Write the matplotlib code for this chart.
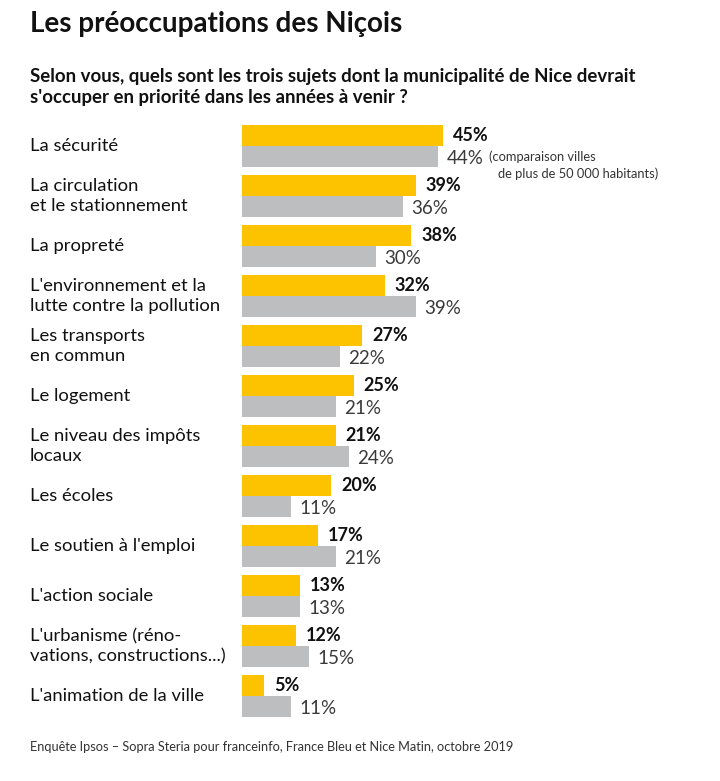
import matplotlib
matplotlib.use("Agg")
import matplotlib.pyplot as plt
import matplotlib.transforms as mtransforms

plt.rcParams["font.family"] = ["Lato", "DejaVu Sans"]

categories = [
    "La sécurité",
    "La circulation\net le stationnement",
    "La propreté",
    "L'environnement et la\nlutte contre la pollution",
    "Les transports\nen commun",
    "Le logement",
    "Le niveau des impôts\nlocaux",
    "Les écoles",
    "Le soutien à l'emploi",
    "L'action sociale",
    "L'urbanisme (réno-\nvations, constructions...)",
    "L'animation de la ville",
]
nice = [45, 39, 38, 32, 27, 25, 21, 20, 17, 13, 12, 5]
villes = [44, 36, 30, 39, 22, 21, 24, 11, 21, 13, 15, 11]

YELLOW = "#FEC300"
GREY = "#BCBEC0"
TXT = "#111111"

W, H = 720, 781
fig = plt.figure(figsize=(W / 100, H / 100), dpi=100)

# axes in pixel terms: bars start at x=242, 1% ~ 4.46 px, rows every 50 px
px_per_pct = 4.46
ax_left, ax_top, ax_bot = 242, 100, 730
ax = fig.add_axes([ax_left / W, 1 - ax_bot / H, (W - ax_left) / W, (ax_bot - ax_top) / H])
ax.set_xlim(0, (W - ax_left) / px_per_pct)
ax.set_ylim(11.68, -0.92)
ax.axis("off")

bh = 0.42
ys = list(range(len(categories)))
ax.barh([y - bh / 2 for y in ys], nice, height=bh, color=YELLOW)
ax.barh([y + bh / 2 for y in ys], villes, height=bh, color=GREY)

off = 10 / px_per_pct
for y, a, b in zip(ys, nice, villes):
    ax.text(a + off, y - bh / 2, f"{a}%", fontsize=13, fontweight="bold",
            color=TXT, va="center", ha="left")
    ax.text(b + off - 0.4, y + bh / 2 + 0.03, f"{b}%", fontsize=13.5, fontweight="normal",
            color="#3a3a3a", va="center", ha="left")

lab_tr = mtransforms.blended_transform_factory(fig.transFigure, ax.transData)
for y, c in zip(ys, categories):
    ax.text(30 / W, y, c, transform=lab_tr, fontsize=13.3, color=TXT,
            va="center", ha="left", linespacing=1.3)

ax.text(489 / W, 0.21, "(comparaison villes", transform=lab_tr, fontsize=9.3,
        color="#333333", va="center", ha="left")
ax.text(498 / W, 0.56, "de plus de 50 000 habitants)", transform=lab_tr, fontsize=9.3,
        color="#333333", va="center", ha="left")

fig.text(30 / W, 1 - 24 / H, "Les préoccupations des Niçois", fontsize=20,
         fontweight="bold", color=TXT, va="center", ha="left")
fig.text(30 / W, 1 - 87 / H,
         "Selon vous, quels sont les trois sujets dont la municipalité de Nice devrait\n"
         "s'occuper en priorité dans les années à venir ?",
         fontsize=13.4, fontweight="bold", color=TXT, va="center", ha="left",
         linespacing=1.3)
fig.text(30 / W, 1 - 747 / H,
         "Enquête Ipsos – Sopra Steria pour franceinfo, France Bleu et Nice Matin, octobre 2019",
         fontsize=9.2, color="#333333", va="center", ha="left")

fig.savefig("out.png", dpi=100, facecolor="white")
